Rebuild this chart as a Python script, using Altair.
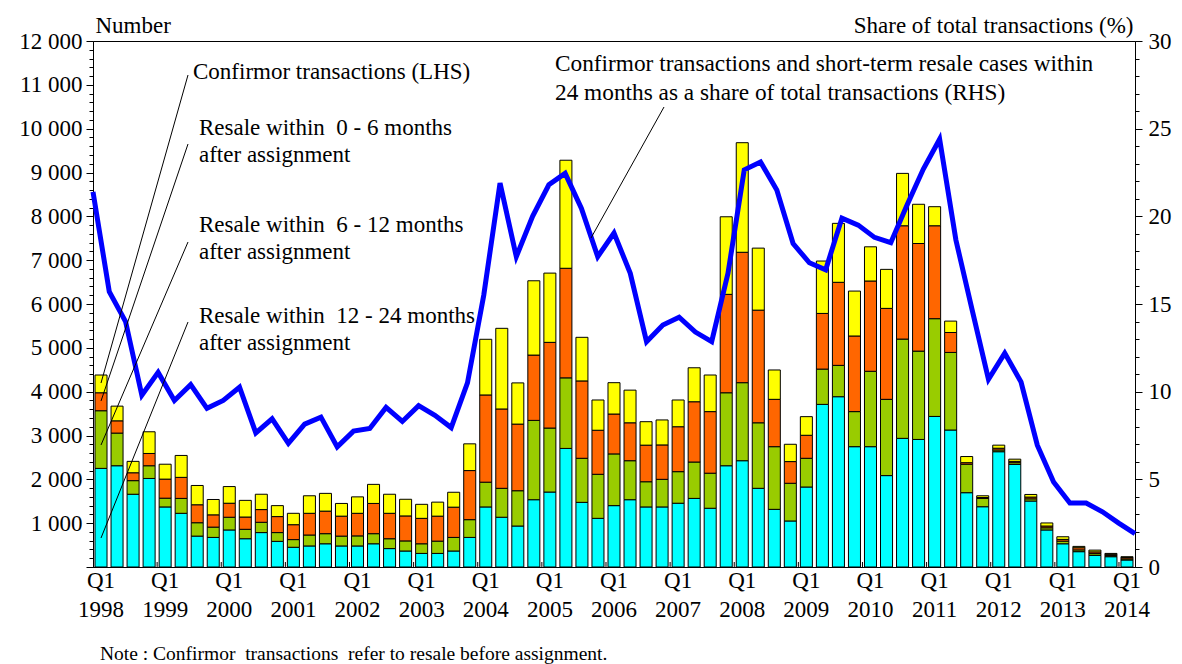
import altair as alt
import pandas as pd

FONT = "Liberation Serif"
W, H = 1042, 526

# Quarterly data, Q1 1998 ... Q1 2014 (65 quarters)
first_year = 1998
n_quarters = 65

resale_12_24 = [2250, 2310, 1660, 2020, 1370, 1225, 705, 675, 845, 645, 785, 585,
                450, 480, 530, 480, 480, 530, 420, 365, 310, 310, 365, 675,
                1370, 1135, 935, 1535, 1710, 2705, 1475, 1110, 1400, 1535, 1370, 1370,
                1455, 1565, 1340, 2310, 2425, 1795, 1315, 1050, 1825, 3710, 3885, 2745,
                2745, 2085, 2935, 2910, 3435, 3125, 1695, 1375, 2630, 2340, 1505, 845,
                530, 350, 265, 235, 160]
resale_6_12 = [1315, 745, 310, 290, 200, 340, 305, 235, 290, 215, 235, 200,
               175, 250, 230, 225, 230, 230, 225, 230, 220, 280, 310, 405,
               565, 660, 805, 1810, 1460, 1610, 1005, 1005, 1180, 890, 575, 630,
               720, 830, 800, 1665, 1780, 1495, 1430, 860, 655, 805, 715, 800,
               1720, 1740, 2265, 2015, 2230, 1770, 650, 190, 40, 40, 50, 50,
               60, 40, 40, 25, 25]
resale_0_6 = [410, 280, 180, 280, 435, 480, 410, 280, 320, 280, 290, 365,
              340, 495, 515, 455, 515, 690, 580, 570, 580, 570, 690, 1120,
              1990, 1810, 1520, 1490, 1955, 2500, 1765, 1005, 910, 865, 835, 785,
              1025, 1375, 1405, 2245, 2975, 2570, 1080, 495, 525, 1270, 1895, 1725,
              2060, 2075, 2585, 2455, 2120, 455, 35, 20, 40, 30, 40, 40,
              40, 50, 40, 30, 30]
confirmor = [405, 335, 260, 495, 340, 500, 440, 350, 380, 380, 350, 250,
             260, 400, 405, 290, 375, 435, 435, 380, 320, 320, 340, 610,
             1270, 1840, 940, 1695, 1580, 2465, 995, 690, 715, 745, 535, 570,
             610, 775, 835, 1770, 2500, 1415, 670, 395, 425, 1195, 1345, 1025,
             780, 890, 1195, 895, 435, 260, 140, 40, 70, 50, 60, 70,
             60, 30, 40, 20, 20]
share_pct = [21.4, 15.7, 14.0, 9.8, 11.1, 9.5, 10.4, 9.05, 9.5, 10.25, 7.65, 8.45,
             7.05, 8.15, 8.55, 6.85, 7.75, 7.9, 9.1, 8.3, 9.2, 8.65, 7.95, 10.5,
             15.5, 21.9, 17.7, 20.0, 21.8, 22.45, 20.45, 17.7, 19.05, 16.75, 12.85, 13.8,
             14.25, 13.4, 12.85, 16.75, 22.65, 23.1, 21.5, 18.45, 17.35, 16.95, 19.9, 19.5,
             18.8, 18.5, 20.65, 22.7, 24.4, 18.65, 14.65, 10.7, 12.2, 10.55, 6.95, 4.85,
             3.65, 3.65, 3.15, 2.5, 1.9]

series_names = ["Resale within 12 - 24 months after assignment",
                "Resale within 6 - 12 months after assignment",
                "Resale within 0 - 6 months after assignment",
                "Confirmor transactions"]
series_colors = ["#00FFFF", "#99CC00", "#FF6600", "#FFFF00"]
series_values = [resale_12_24, resale_6_12, resale_0_6, confirmor]

rows = []
for i in range(n_quarters):
    for k, (name, vals) in enumerate(zip(series_names, series_values)):
        rows.append({"idx": i, "series": name, "value": vals[i], "order": k})
bars_df = pd.DataFrame(rows)
line_df = pd.DataFrame({"idx": list(range(n_quarters)), "share": share_pct})
yeartick_df = pd.DataFrame({"idx": list(range(4, n_quarters, 4))})

x_label_expr = ("datum.value % 4 == 0 ? ['Q1', '' + (" + str(first_year)
                + " + datum.value / 4)] : ''")

x_scale = alt.Scale(paddingInner=0.25, paddingOuter=0.125)
x_axis = alt.Axis(values=list(range(0, n_quarters, 4)),
                  labelExpr=x_label_expr,
                  labelAngle=0, ticks=False, title=None, labelPadding=2,
                  labelLineHeight=29, labelBaseline="top", labelOverlap=False)

bars = alt.Chart(bars_df).mark_bar(stroke="black", strokeWidth=1).encode(
    x=alt.X("idx:O", scale=x_scale, axis=x_axis),
    y=alt.Y("value:Q", stack="zero",
            scale=alt.Scale(domain=[0, 12000], nice=False),
            axis=alt.Axis(values=list(range(0, 12001, 200)),
                          labelExpr="datum.value % 1000 == 0 && datum.value > 0 ? replace(format(datum.value, ','), ',', ' ') : ''",
                          tickSize={"condition": {"test": "datum.value % 1000 == 0", "value": 7}, "value": 4},
                          labelOverlap=False, labelPadding=4,
                          title="Number", titleAngle=0, titleAlign="left",
                          titleX=2, titleY=-16, titleBaseline="middle")),
    color=alt.Color("series:N", scale=alt.Scale(domain=series_names, range=series_colors), legend=None),
    order=alt.Order("order:Q", sort="ascending"),
)

yearticks = alt.Chart(yeartick_df).mark_rule(color="black", strokeWidth=1, xOffset=-2).encode(
    x=alt.X("idx:O", scale=x_scale, axis=x_axis, bandPosition=0),
    y=alt.value(H - 5), y2=alt.value(H),
)

line = alt.Chart(line_df).mark_line(color="#0000FF", strokeWidth=5).encode(
    x=alt.X("idx:Q", scale=alt.Scale(domain=[0, n_quarters - 1], nice=False, zero=False), axis=None),
    y=alt.Y("share:Q", scale=alt.Scale(domain=[0, 30], nice=False),
            axis=alt.Axis(orient="right", values=list(range(0, 31)),
                          labelExpr="datum.value % 5 == 0 ? datum.label : ''",
                          tickSize={"condition": {"test": "datum.value % 5 == 0", "value": 7}, "value": 4},
                          labelOverlap=False, labelPadding=6,
                          title="Share of total transactions (%)", titleAngle=0, titleAlign="right",
                          titleX=-2, titleY=-16, titleBaseline="middle")),
)

one = pd.DataFrame({"k": [0]})

def label(text, x, y, size=23):
    return alt.Chart(one).mark_text(align="left", baseline="middle", font=FONT, fontSize=size,
                                    color="black", x=x, y=y).encode(text=alt.value(text))

def leader(x1, y1, x2, y2):
    return alt.Chart(one).mark_rule(color="black", strokeWidth=1).encode(
        x=alt.value(x1), y=alt.value(y1), x2=alt.value(x2), y2=alt.value(y2))

NB = "\u00a0"
annotations = [
    label("Confirmor transactions (LHS)", 100, 31),
    label("Resale within" + NB + " 0 - 6 months", 106, 87),
    label("after assignment", 106, 114),
    label("Resale within" + NB + " 6 - 12 months", 106, 184),
    label("after assignment", 106, 211),
    label("Resale within" + NB + " 12 - 24 months", 106, 275),
    label("after assignment", 106, 302),
    label("Confirmor transactions and short-term resale cases within", 462, 23, 23.3),
    label("24 months as a share of total transactions (RHS)", 462, 52, 23.3),
    label("Note : Confirmor" + NB + " transactions" + NB + " refer to resale before assignment.",
          7, 613, 19.5),
    leader(95, 34, 8, 342),
    leader(95, 103, 8, 360),
    leader(95, 201, 8, 404),
    leader(95, 281, 8, 497),
    leader(571, 66, 498, 197),
]

chart = alt.layer(
    alt.layer(bars, yearticks),
    line,
    *annotations,
).resolve_scale(x="independent", y="independent").properties(
    width=W, height=H,
    autosize=alt.AutoSizeParams(type="none"),
    padding={"left": 85, "top": 33, "right": 39, "bottom": 97},
).configure_view(stroke="black", strokeWidth=1).configure_axis(
    domainColor="black", tickColor="black", labelColor="black", titleColor="black",
    labelFont=FONT, titleFont=FONT, labelFontSize=23, titleFontSize=23,
    titleFontWeight="normal", grid=False, domainWidth=1, tickWidth=1,
)

chart.save("out.html", embed_options={"renderer": "svg", "actions": False})
